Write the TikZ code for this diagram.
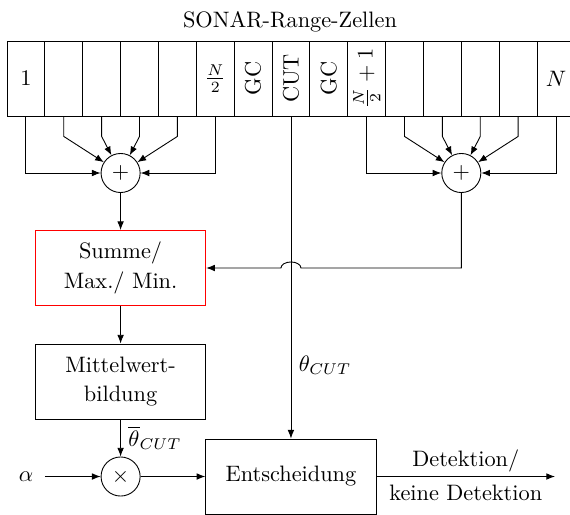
\documentclass[tikz,border=0pt]{standalone}
\usepackage{graphicx}
\usetikzlibrary{arrows.meta,calc}
\begin{document}
\begin{tikzpicture}[x=0.448pt,y=-0.448pt,
  cell/.style={draw, minimum width=16.96pt, minimum height=33.6pt, inner sep=0pt},
  blk/.style={draw, minimum width=76.3pt, minimum height=33.6pt, align=center, inner sep=2pt},
  op/.style={draw, circle, minimum size=17.5pt, inner sep=0pt},
  conn/.style={-{Latex[length=3.9pt,width=3pt]}},
  >={Latex[length=3.9pt,width=3pt]}]
\clip (0,0) rectangle (570,514);
\node (title) at (290,22) {SONAR-Range-Zellen};
\foreach \i/\lab in {1/1, 2/, 3/, 4/, 5/, 6/{$\frac{N}{2}$}, 7/{\rotatebox{90}{GC}}, 8/{\rotatebox{90}{CUT}}, 9/{\rotatebox{90}{GC}}, 10/{\rotatebox{90}{$\frac{N}{2}+1$}}, 11/, 12/, 13/, 14/, 15/{$N$}}
  \node[cell] (c\i) at ({7+37.86*(\i-0.5)},78.5) {\lab};
\node[op] (sumL) at (120.6,173) {$+$};
\node[op] (sumR) at (461.3,173) {$+$};
\node[blk, draw=red] (summe) at (120.6,268) {Summe/\\[1.5pt]Max./ Min.};
\node[blk] (mittel) at (120.6,381.5) {Mittelwert-\\[1pt]bildung};
\node[op] (mul) at (120.6,476.5) {$\times$};
\node[inner sep=5pt] (alpha) at (26,476.5) {$\alpha$};
\node[blk] (ent) at (c8 |- mul) {Entscheidung};
\coordinate (out) at (555,476.5);
% left sum inputs
\draw[conn] (c1.south) |- (sumL);
\draw[conn] (c6.south) |- (sumL);
\foreach \i in {2,...,5} \draw[conn] (c\i.south) -- ++(0,20) -- (sumL);
% right sum inputs
\draw[conn] (c10.south) |- (sumR);
\draw[conn] (c15.south) |- (sumR);
\foreach \i in {11,...,14} \draw[conn] (c\i.south) -- ++(0,20) -- (sumR);
% main flow
\draw[conn] (sumL) -- (summe);
\draw[conn] (sumR) |- ($(c8.south |- summe.east)+(10,0)$) arc[start angle=0,end angle=180,x radius=4.48pt,y radius=2.7pt] -- (summe.east);
\draw[conn] (summe) -- (mittel);
\draw[conn] (mittel) -- node[right]{$\overline{\theta}_{CUT}$} (mul);
\draw[conn] (alpha) -- (mul);
\draw[conn] (mul) -- (ent);
\draw[conn] (c8.south) -- node[pos=0.773, right]{$\theta_{CUT}$} (ent);
\draw[conn] (ent) -- node[midway, yshift=6.9pt]{Detektion/} node[midway, yshift=-7.2pt]{keine Detektion} (out);
\end{tikzpicture}
\end{document}
